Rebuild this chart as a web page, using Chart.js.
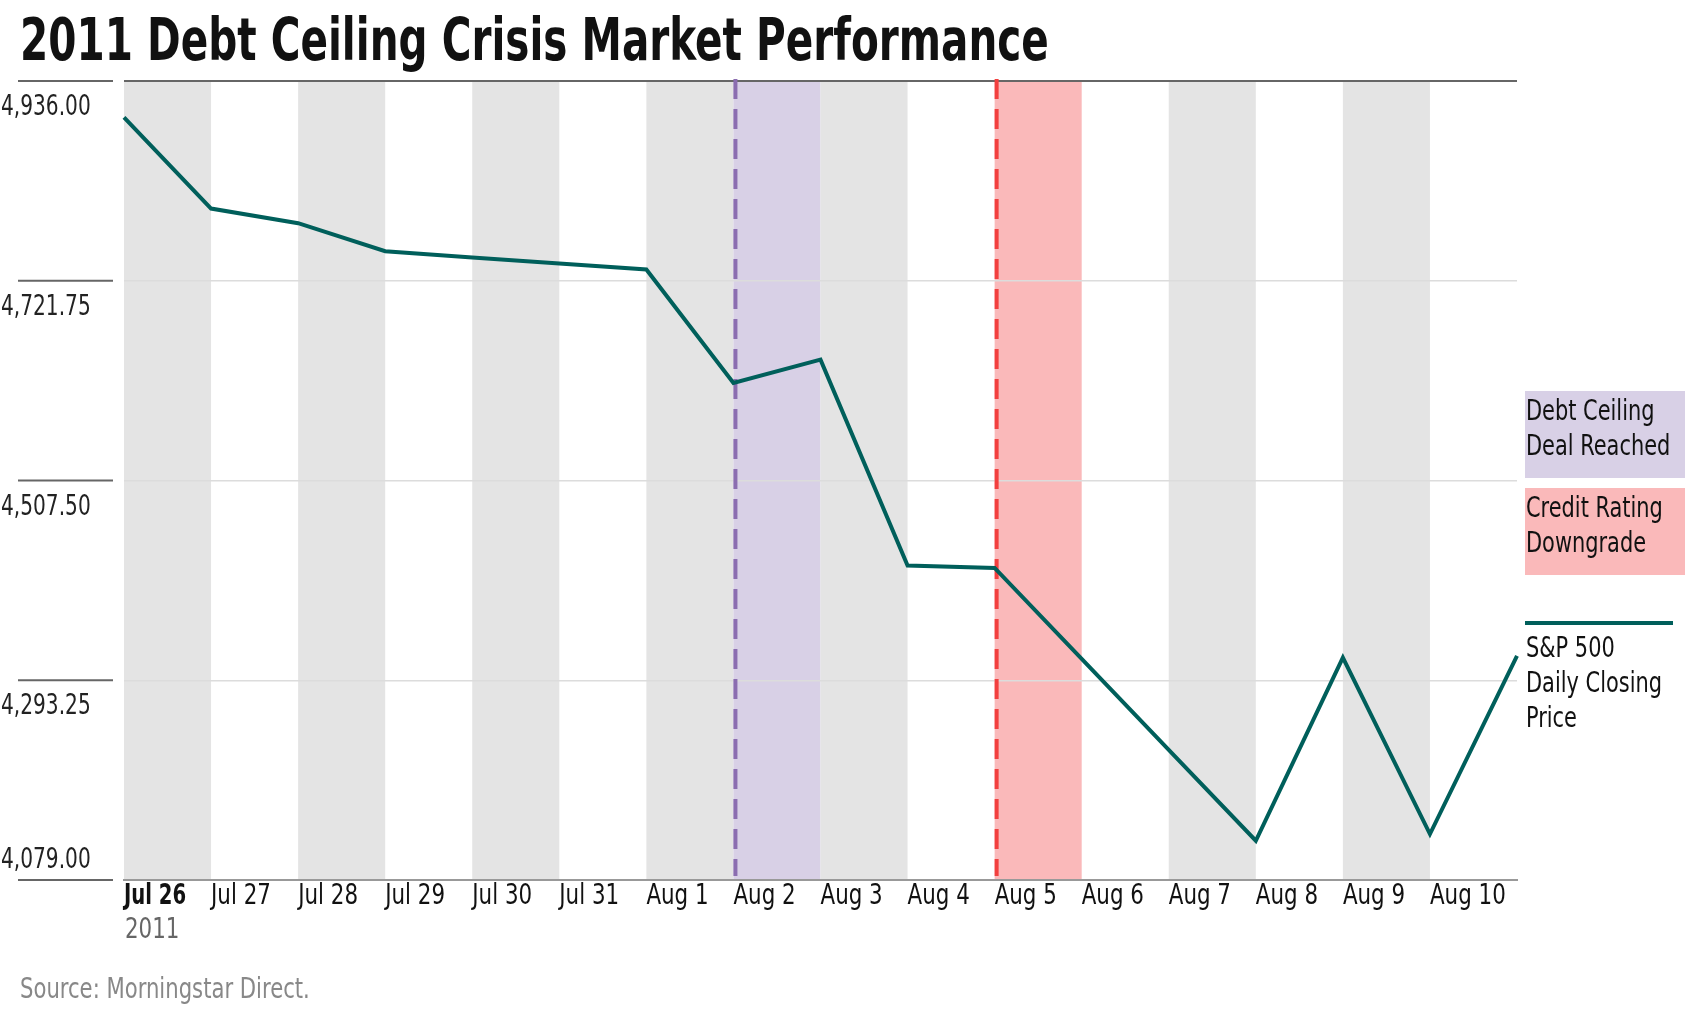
<!DOCTYPE html>
<html>
<head>
<meta charset="utf-8">
<script src="https://cdn.jsdelivr.net/npm/chart.js@4.4.1/dist/chart.umd.min.js"></script>
<style>
  html, body { margin: 0; padding: 0; background: #fff; }
</style>
</head>
<body>
<canvas id="chart" width="1691" height="1019"></canvas>
<script>
// ---- data ----
const dates = ["Jul 26", "Jul 27", "Jul 28", "Jul 29", "Jul 30", "Jul 31", "Aug 1", "Aug 2",
               "Aug 3", "Aug 4", "Aug 5", "Aug 6", "Aug 7", "Aug 8", "Aug 9", "Aug 10", "Aug 11"];
const closes = [4897.1, 4799.2, 4783.5, 4753.5, 4746.8, 4740.3, 4733.9, 4612.1,
                4637.1, 4416.2, 4413.7, 4316.2, 4218.6, 4121.1, 4317.6, 4128.3, 4319.3];
const yTicks = [4079.00, 4293.25, 4507.50, 4721.75, 4936.00];
const yearLabel = "2011";
const eventDays = ["Aug 2", "Aug 5"];
const eventLabels = [["Debt Ceiling", "Deal Reached"], ["Credit Rating", "Downgrade"]];
const seriesLabel = ["S&P 500", "Daily Closing", "Price"];
const titleText = "2011 Debt Ceiling Crisis Market Performance";
const sourceText = "Source: Morningstar Direct.";

// ---- styles ----
const FONT = "'Liberation Sans Narrow', 'DejaVu Sans Condensed', 'Arial Narrow', sans-serif";
const lineColor = "#005f5b";
const bandGray = "#e4e4e4";
const eventFill = ["#d8d0e6", "#fab9ba"];
const eventLine = ["#8b6db0", "#f2403f"];
const SQ = 0.83; // horizontal squeeze, the original face is a narrow one

function fmt(v) {
  return v.toLocaleString("en-US", { minimumFractionDigits: 2, maximumFractionDigits: 2 });
}

// draw text squeezed sideways
function txt(ctx, s, x, y, sx) {
  ctx.save();
  ctx.translate(x, y);
  ctx.scale(sx, 1);
  ctx.fillText(s, 0, 0);
  ctx.restore();
}

// bands, event lines, labels and legend
const decor = {
  id: "decor",
  beforeDraw(chart) {
    const { ctx, chartArea: a } = chart;
    const x = chart.scales.x;
    ctx.save();
    ctx.fillStyle = "#fff";
    ctx.fillRect(0, 0, chart.width, chart.height);
    for (let i = 0; i < dates.length - 1; i++) {
      const ev = eventDays.indexOf(dates[i]);
      const color = ev >= 0 ? eventFill[ev] : (i % 2 === 0 ? bandGray : null);
      if (!color) continue;
      const x0 = x.getPixelForValue(i);
      const x1 = x.getPixelForValue(i + 1);
      ctx.fillStyle = color;
      ctx.fillRect(x0, a.top, x1 - x0, a.bottom - a.top);
    }
    ctx.restore();
  },
  beforeDatasetsDraw(chart) {
    const { ctx, chartArea: a } = chart;
    const x = chart.scales.x;
    ctx.save();
    ctx.lineWidth = 4;
    ctx.setLineDash([20, 10]);
    eventDays.forEach((d, k) => {
      const px = x.getPixelForValue(dates.indexOf(d)) + 2;
      ctx.strokeStyle = eventLine[k];
      ctx.beginPath();
      ctx.moveTo(px, a.top - 2);
      ctx.lineTo(px, a.bottom - 4);
      ctx.stroke();
    });
    ctx.restore();
  },
  afterDraw(chart) {
    const { ctx, chartArea: a } = chart;
    const x = chart.scales.x;
    const y = chart.scales.y;
    ctx.save();
    ctx.textAlign = "left";
    ctx.textBaseline = "alphabetic";

    // title
    ctx.fillStyle = "#111";
    ctx.font = "bold 59px " + FONT;
    txt(ctx, titleText, 20, 60, 0.764);

    // y tick stubs and labels
    ctx.font = "28px " + FONT;
    yTicks.forEach((v, i) => {
      const py = y.getPixelForValue(v);
      ctx.strokeStyle = "#666";
      ctx.lineWidth = 2;
      ctx.beginPath();
      ctx.moveTo(18, py);
      ctx.lineTo(113, py);
      ctx.stroke();
      ctx.fillStyle = "#222";
      txt(ctx, fmt(v), 1, i === 0 ? py - 12 : py + 34, 0.8);
    });

    // x labels, left aligned on each day's start
    for (let i = 0; i < dates.length - 1; i++) {
      ctx.font = (i === 0 ? "bold " : "") + "28px " + FONT;
      ctx.fillStyle = "#111";
      txt(ctx, dates[i], x.getPixelForValue(i), a.bottom + 24, i === 0 ? 0.78 : 0.85);
    }
    ctx.font = "28px " + FONT;
    ctx.fillStyle = "#666";
    txt(ctx, yearLabel, x.getPixelForValue(0) + 1, a.bottom + 58, 0.85);

    // legend
    eventLabels.forEach((lines, k) => {
      const top = 391 + k * 97;
      ctx.fillStyle = eventFill[k];
      ctx.fillRect(1525, top, 160, 87);
      ctx.fillStyle = "#111";
      lines.forEach((t, j) => txt(ctx, t, 1526, top + 29 + j * 35, SQ));
    });
    ctx.strokeStyle = lineColor;
    ctx.lineWidth = 4;
    ctx.beginPath();
    ctx.moveTo(1525, 623);
    ctx.lineTo(1673, 623);
    ctx.stroke();
    ctx.fillStyle = "#111";
    seriesLabel.forEach((t, j) => txt(ctx, t, 1526, 657 + j * 35, SQ));

    // source
    ctx.fillStyle = "#888";
    txt(ctx, sourceText, 20, 998, 0.84);
    ctx.restore();
  }
};

new Chart(document.getElementById("chart"), {
  type: "line",
  data: {
    labels: dates,
    datasets: [{
      label: seriesLabel.join(" "),
      data: closes,
      borderColor: lineColor,
      borderWidth: 4,
      borderJoinStyle: "miter",
      pointRadius: 0,
      tension: 0,
      fill: false
    }]
  },
  options: {
    responsive: false,
    animation: false,
    devicePixelRatio: 1,
    layout: { padding: { left: 124, right: 174, top: 81, bottom: 139 } },
    plugins: { legend: { display: false }, tooltip: { enabled: false } },
    scales: {
      x: {
        type: "category",
        offset: false,
        afterFit: (s) => { s.height = 0; },
        grid: { display: false, drawTicks: false },
        border: { display: true, color: "#999", width: 2 },
        ticks: { display: false }
      },
      y: {
        min: yTicks[0],
        max: yTicks[yTicks.length - 1],
        afterBuildTicks: (s) => { s.ticks = yTicks.map((v) => ({ value: v })); },
        afterFit: (s) => { s.width = 0; },
        grid: {
          drawTicks: false,
          color: (c) => (c.tick && c.tick.value === yTicks[yTicks.length - 1] ? "#666" : "#dcdcdc"),
          lineWidth: (c) => (c.tick && c.tick.value === yTicks[yTicks.length - 1] ? 2 : 1.5)
        },
        border: { display: false },
        ticks: { display: false }
      }
    }
  },
  plugins: [decor]
});
</script>
</body>
</html>
